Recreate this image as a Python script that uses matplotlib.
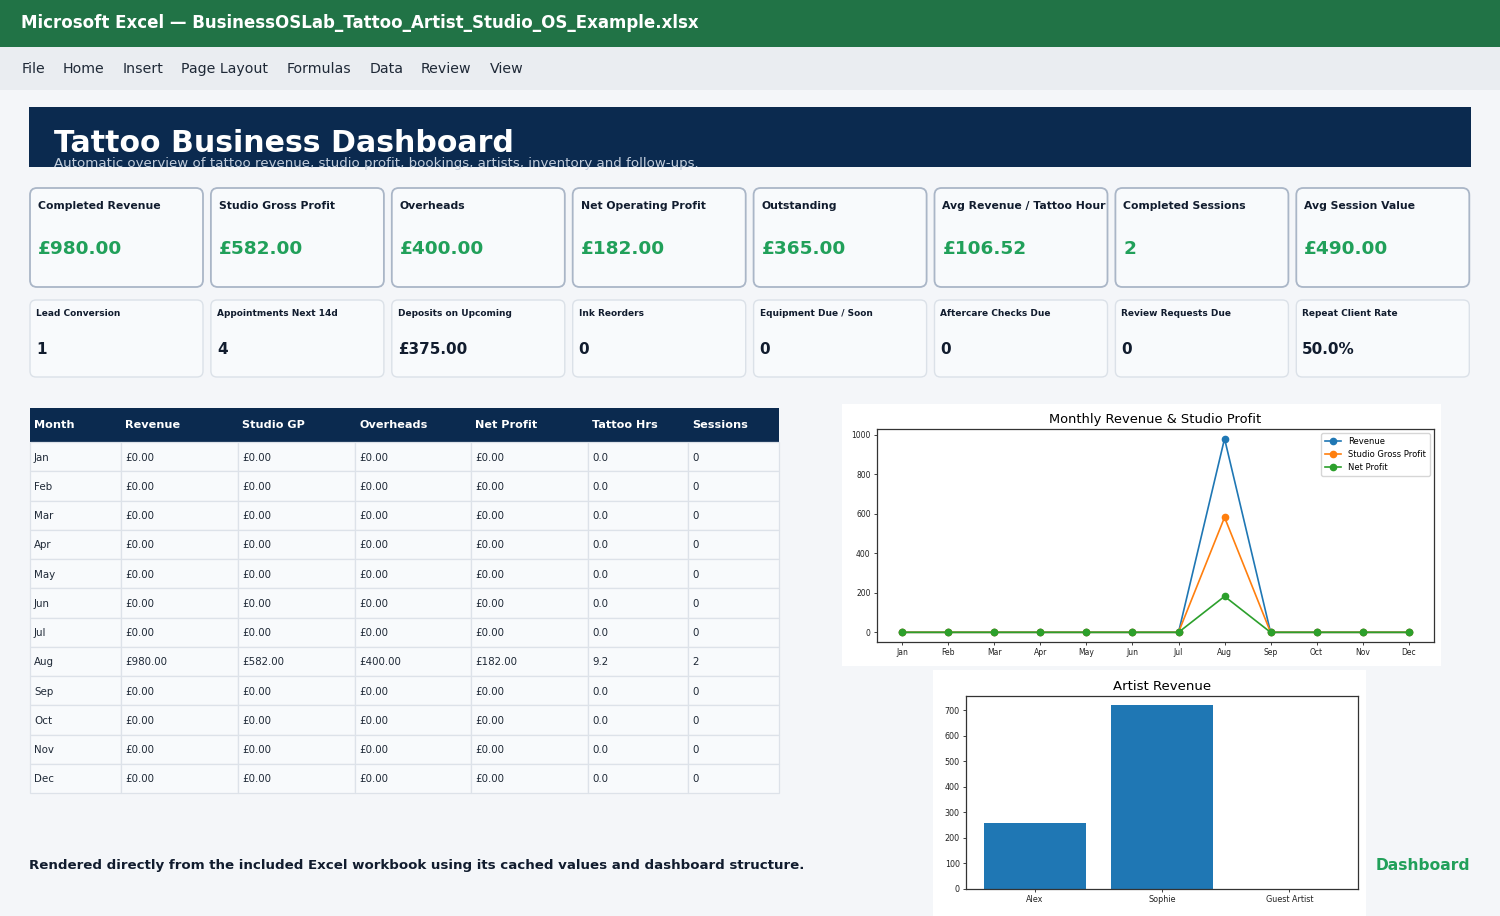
import matplotlib
matplotlib.use("Agg")
import matplotlib.pyplot as plt
from matplotlib.patches import Rectangle, FancyBboxPatch

# ---------------- data ----------------
menu_items = ["File", "Home", "Insert", "Page Layout", "Formulas", "Data", "Review", "View"]

kpi1_labels = ["Completed Revenue", "Studio Gross Profit", "Overheads", "Net Operating Profit",
               "Outstanding", "Avg Revenue / Tattoo Hour", "Completed Sessions", "Avg Session Value"]
kpi1_values = ["£980.00", "£582.00", "£400.00", "£182.00", "£365.00", "£106.52", "2", "£490.00"]

kpi2_labels = ["Lead Conversion", "Appointments Next 14d", "Deposits on Upcoming", "Ink Reorders",
               "Equipment Due / Soon", "Aftercare Checks Due", "Review Requests Due", "Repeat Client Rate"]
kpi2_values = ["1", "4", "£375.00", "0", "0", "0", "0", "50.0%"]

months = ["Jan", "Feb", "Mar", "Apr", "May", "Jun", "Jul", "Aug", "Sep", "Oct", "Nov", "Dec"]
revenue = [0, 0, 0, 0, 0, 0, 0, 980, 0, 0, 0, 0]
gross_profit = [0, 0, 0, 0, 0, 0, 0, 582, 0, 0, 0, 0]
overheads = [0, 0, 0, 0, 0, 0, 0, 400, 0, 0, 0, 0]
net_profit = [0, 0, 0, 0, 0, 0, 0, 182, 0, 0, 0, 0]
tattoo_hrs = [0.0, 0.0, 0.0, 0.0, 0.0, 0.0, 0.0, 9.2, 0.0, 0.0, 0.0, 0.0]
sessions = [0, 0, 0, 0, 0, 0, 0, 2, 0, 0, 0, 0]

table_headers = ["Month", "Revenue", "Studio GP", "Overheads", "Net Profit", "Tattoo Hrs", "Sessions"]

artists = ["Alex", "Sophie", "Guest Artist"]
artist_revenue = [260, 720, 0]

# ---------------- style ----------------
W, H = 1500, 916
GREEN_BAR = "#217346"
NAVY = "#0b2a4f"
BG = "#f4f6f9"
MENU_BG = "#eaedf1"
CARD_BG = "#f8fafc"
VAL_GREEN = "#21a05a"
DARK = "#111c2e"
FONT = "DejaVu Sans"

fig = plt.figure(figsize=(15, 9.16), dpi=100, facecolor=BG)
bg = fig.add_axes([0, 0, 1, 1])
bg.set_xlim(0, W)
bg.set_ylim(H, 0)
bg.axis("off")
bg.set_facecolor(BG)


def rect(x, y, w, h, color, **kw):
    r = Rectangle((x, y), w, h, facecolor=color, edgecolor=kw.pop("ec", "none"), **kw)
    bg.add_patch(r)
    return r


def txt(x, y, s, size, color, weight="normal", ha="left", va="center", **kw):
    return bg.text(x, y, s, fontsize=size, color=color, fontweight=weight, ha=ha, va=va,
                   family=FONT, **kw)


# title bar
rect(0, 0, W, 47, GREEN_BAR)
txt(21, 23, "Microsoft Excel — BusinessOSLab_Tattoo_Artist_Studio_OS_Example.xlsx", 12, "white", "bold")

# menu bar
rect(0, 47, W, 43, MENU_BG)
menu_x = [22, 63, 123, 181, 287, 370, 421, 490]
for mx, m in zip(menu_x, menu_items):
    txt(mx, 69, m, 10.2, "#1f2937")

# banner
banner = rect(29, 107, 1442, 60, NAVY)
txt(54, 152, "Tattoo Business Dashboard", 21.6, "white", "bold", va="baseline")
sub = txt(54, 163, "Automatic overview of tattoo revenue, studio profit, bookings, artists, inventory and follow-ups.",
          9.6, "#c3cedc", va="center")
sub.set_clip_path(banner)

# KPI cards
card_x0, pitch, card_w = 30, 180.9, 173
for i, (lab, val) in enumerate(zip(kpi1_labels, kpi1_values)):
    x = card_x0 + i * pitch
    bg.add_patch(FancyBboxPatch((x, 188), card_w, 99, boxstyle="round,pad=0,rounding_size=7",
                                facecolor=CARD_BG, edgecolor="#aab6c7", linewidth=1.3))
    txt(x + 8, 206, lab, 7.8, DARK, "bold")
    txt(x + 8, 249, val, 13.3, VAL_GREEN, "bold")

for i, (lab, val) in enumerate(zip(kpi2_labels, kpi2_values)):
    x = card_x0 + i * pitch
    bg.add_patch(FancyBboxPatch((x, 300), card_w, 77, boxstyle="round,pad=0,rounding_size=6",
                                facecolor=CARD_BG, edgecolor="#dbe1e8", linewidth=1.0))
    txt(x + 6, 314, lab, 6.5, DARK, "bold")
    txt(x + 6, 350, val, 11, DARK, "bold")

# table
col_x = [30, 121, 238, 355, 471, 588, 688, 779]
hdr_top, hdr_h = 408, 34
row_top = hdr_top + hdr_h
row_h = (793 - row_top) / 12
rect(col_x[0], hdr_top, col_x[-1] - col_x[0], hdr_h, NAVY)
for j, hname in enumerate(table_headers):
    txt(col_x[j] + 4, hdr_top + hdr_h / 2, hname, 8.1, "white", "bold")

for i, m in enumerate(months):
    y = row_top + i * row_h
    cells = [m, f"£{revenue[i]:,.2f}", f"£{gross_profit[i]:,.2f}", f"£{overheads[i]:,.2f}",
             f"£{net_profit[i]:,.2f}", f"{tattoo_hrs[i]:.1f}", f"{sessions[i]}"]
    for j, c in enumerate(cells):
        rect(col_x[j], y, col_x[j + 1] - col_x[j], row_h, CARD_BG, ec="#dde2e9", linewidth=0.9)
        txt(col_x[j] + 4, y + row_h / 2 + 1, c, 7.4, "#1f2937")

# footer
txt(29, 865, "Rendered directly from the included Excel workbook using its cached values and dashboard structure.",
    9.6, DARK, "bold")
txt(1470, 866, "Dashboard", 11.2, VAL_GREEN, "bold", ha="right")

# ---------------- line chart ----------------
rect(842, 404, 599, 262, "white")
ax1 = fig.add_axes([877 / W, (H - 642) / H, 557 / W, 213 / H])
ax1.set_facecolor("white")
x_idx = range(len(months))
ax1.plot(x_idx, revenue, marker="o", color="#1f77b4", linewidth=1.2, markersize=4.5, label="Revenue")
ax1.plot(x_idx, gross_profit, marker="o", color="#ff7f0e", linewidth=1.2, markersize=4.5, label="Studio Gross Profit")
ax1.plot(x_idx, net_profit, marker="o", color="#2ca02c", linewidth=1.2, markersize=4.5, label="Net Profit")
ax1.set_xticks(list(x_idx))
ax1.set_xticklabels(months)
ax1.set_yticks([0, 200, 400, 600, 800, 1000])
ax1.tick_params(labelsize=5.5, length=2.5, width=0.6, pad=2, colors="#222222")
for s in ax1.spines.values():
    s.set_linewidth(0.9)
    s.set_color("#333333")
ax1.set_title("Monthly Revenue & Studio Profit", fontsize=9.4, pad=4, family=FONT)
ax1.legend(loc="upper right", fontsize=6, handlelength=1.9, borderpad=0.5, labelspacing=0.45,
           framealpha=0.8)

# ---------------- bar chart ----------------
rect(933, 670, 433, 246, "white")
ax2 = fig.add_axes([966 / W, (H - 889) / H, 392 / W, 193 / H])
ax2.set_facecolor("white")
ax2.bar(artists, artist_revenue, color="#1f77b4", width=0.8)
ax2.set_yticks([0, 100, 200, 300, 400, 500, 600, 700])
ax2.tick_params(labelsize=5.8, length=2.5, width=0.6, pad=2, colors="#222222")
for s in ax2.spines.values():
    s.set_linewidth(0.9)
    s.set_color("#333333")
ax2.set_title("Artist Revenue", fontsize=9.5, pad=4, family=FONT)

fig.savefig("out.png", dpi=100, facecolor=BG)
